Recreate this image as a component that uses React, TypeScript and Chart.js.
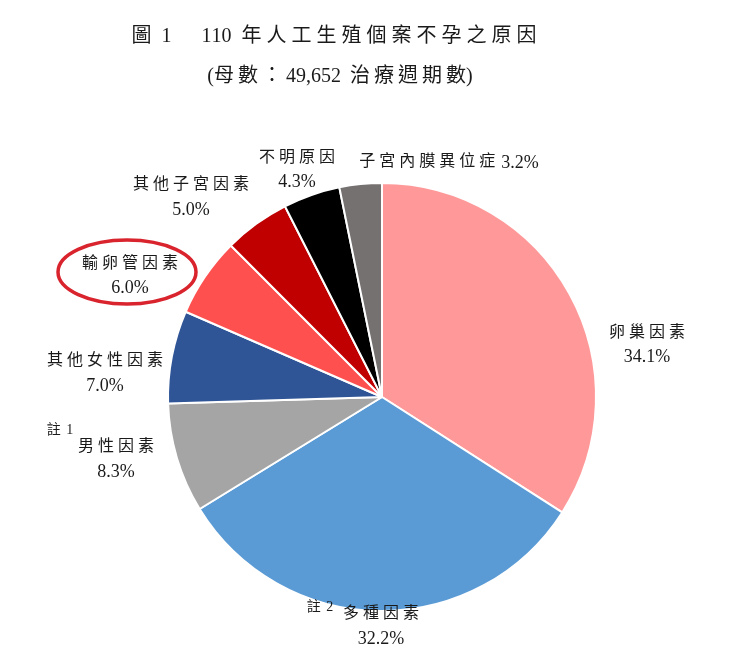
import React, { useEffect, useRef } from "react";
import { Chart, registerables } from "chart.js";
Chart.register(...registerables);

const categories = ["卵巢因素", "多種因素", "男性因素", "其他女性因素", "輸卵管因素", "其他子宮因素", "不明原因", "子宮內膜異位症"];
const values = [34.1, 32.2, 8.3, 7.0, 6.0, 5.0, 4.3, 3.2];
const colors = ["#FF9999", "#5B9BD5", "#A5A5A5", "#2F5597", "#FF5050", "#C00000", "#000000", "#767171"];
const notes = ["", "註 2", "註 1", "", "", "", "", ""];
const titleLine1 = "圖 1　110 年人工生殖個案不孕之原因";
const titleLine2 = "(母數：49,652 治療週期數)";

// label layout: [centerX, line1Y, line2Y, singleLine]
const labelLayout: [number, number, number, boolean][] = [
  [647, 333, 357, false],
  [381, 614, 639, false],
  [116, 447, 472, false],
  [105, 361, 386, false],
  [130, 264, 288, false],
  [191, 185, 210, false],
  [297, 158, 182, false],
  [449, 162, 162, true],
];
const noteLayout: [number, number][] = [
  [0, 0], [320, 607], [60, 430], [0, 0], [0, 0], [0, 0], [0, 0], [0, 0],
];

const FONT = "'Liberation Serif', 'Noto Sans CJK TC', serif";

const isCJK = (ch?: string) => !!ch && /[\u3000-\u9fff\uff00-\uffef]/.test(ch);

function layoutSpaced(ctx: CanvasRenderingContext2D, text: string, spacing: number) {
  const chars = Array.from(text);
  const widths = chars.map((ch, i) => {
    const w = ctx.measureText(ch).width;
    const next = chars[i + 1];
    let add = 0;
    if (i < chars.length - 1) {
      if ((isCJK(ch) && next !== ")") || (isCJK(next) && ch !== "(")) add = spacing;
    }
    return w + add;
  });
  return { chars, widths, total: widths.reduce((a, b) => a + b, 0) };
}

function drawSpacedLeft(ctx: CanvasRenderingContext2D, text: string, x0: number, y: number, spacing: number) {
  const { chars, widths, total } = layoutSpaced(ctx, text, spacing);
  let x = x0;
  ctx.textAlign = "left";
  chars.forEach((ch, i) => {
    ctx.fillText(ch, x, y);
    x += widths[i];
  });
  return total;
}

function drawSpaced(ctx: CanvasRenderingContext2D, text: string, cx: number, y: number, spacing: number) {
  const { total } = layoutSpaced(ctx, text, spacing);
  drawSpacedLeft(ctx, text, cx - total / 2, y, spacing);
}

const labelPlugin = {
  id: "labels",
  afterDraw(chart: any) {
    const ctx = chart.ctx as CanvasRenderingContext2D;
    ctx.save();
    ctx.fillStyle = "#1a1a1a";
    ctx.textBaseline = "middle";
    ctx.font = `20px ${FONT}`;
    drawSpaced(ctx, titleLine1, 334, 37, 5);
    drawSpaced(ctx, titleLine2, 340, 77, 4);

    categories.forEach((c, i) => {
      const [x, y1, y2, single] = labelLayout[i];
      const pct = values[i].toFixed(1) + "%";
      if (single) {
        ctx.font = `16px ${FONT}`;
        const w1 = layoutSpaced(ctx, c, 4).total;
        ctx.font = `18px ${FONT}`;
        const w2 = ctx.measureText(pct).width;
        const gap = 6;
        const start = x - (w1 + gap + w2) / 2;
        ctx.font = `16px ${FONT}`;
        drawSpacedLeft(ctx, c, start, y1, 4);
        ctx.font = `18px ${FONT}`;
        ctx.textAlign = "left";
        ctx.fillText(pct, start + w1 + gap, y1 + 1);
      } else {
        ctx.font = `16px ${FONT}`;
        drawSpaced(ctx, c, x, y1, 4);
        ctx.font = `18px ${FONT}`;
        ctx.textAlign = "center";
        ctx.fillText(pct, x, y2);
      }
      if (notes[i]) {
        ctx.font = `14px ${FONT}`;
        drawSpaced(ctx, notes[i], noteLayout[i][0], noteLayout[i][1], 2);
      }
    });

    // highlight ellipse around 輸卵管因素
    ctx.strokeStyle = "#D9232D";
    ctx.lineWidth = 3.5;
    ctx.beginPath();
    ctx.ellipse(127, 272, 69, 32, 0, 0, Math.PI * 2);
    ctx.stroke();
    ctx.restore();
  },
};

export default function App() {
  const ref = useRef<HTMLCanvasElement>(null);
  useEffect(() => {
    document.body.style.margin = "0";
    const chart = new Chart(ref.current!, {
      type: "pie",
      data: {
        labels: categories,
        datasets: [{ data: values, backgroundColor: colors, borderColor: "#ffffff", borderWidth: 2 }],
      },
      options: {
        animation: false,
        responsive: false,
        layout: { padding: { top: 182, bottom: 45, left: 167, right: 140 } },
        plugins: { legend: { display: false }, tooltip: { enabled: false }, title: { display: false } },
      },
      plugins: [labelPlugin],
    });
    return () => chart.destroy();
  }, []);
  return (
    <div style={{ width: 737, height: 657, background: "#fff" }}>
      <canvas ref={ref} width={737} height={657} style={{ display: "block" }} />
    </div>
  );
}
